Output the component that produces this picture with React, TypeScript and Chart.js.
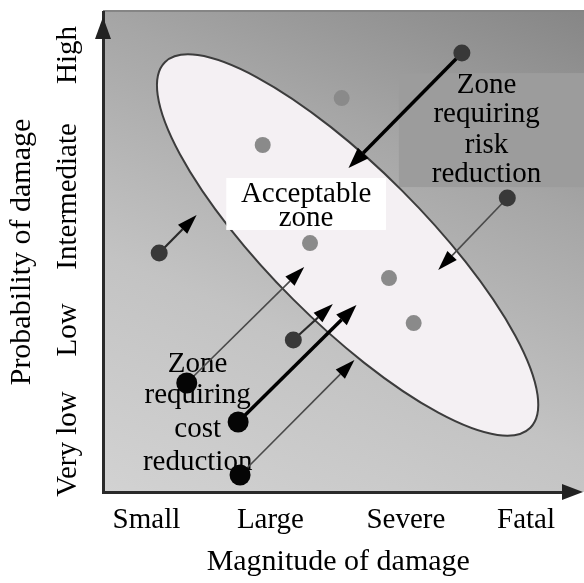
import React, { useEffect, useRef } from 'react';
import { Chart, registerables } from 'chart.js';
Chart.register(...registerables);

const FONT = "'Liberation Serif', 'Times New Roman', serif";

// Axis categories
const xTickLabels = ['Small', 'Large', 'Severe', 'Fatal'];
const xTickValues = [1, 1.98, 3.05, 4];
const yTickLabels = ['Very low', 'Low', 'Intermediate', 'High'];
const yTickValues = [1, 1.88, 2.91, 4];
const X_MIN = 0.657;
const X_MAX = 4.375;
const Y_MIN = 0.63;
const Y_MAX = 4.332;

// Hazard points
const grayDotsX = [1.919, 2.543, 2.293, 2.917, 3.112];
const grayDotsY = [3.306, 3.668, 2.55, 2.28, 1.933];
const darkDotsX = [1.101, 3.493, 3.852, 2.161];
const darkDotsY = [2.473, 4.016, 2.897, 1.802];
const blackDotsX = [1.319, 1.725, 1.74];
const blackDotsY = [1.471, 1.17, 0.761];

// Arrows [fromX, fromY, toX, toY]
const thickArrows = [
  [3.493, 4.016, 2.597, 3.129],
  [1.725, 1.17, 2.66, 2.072],
];
const mediumArrows = [
  [1.101, 2.473, 1.397, 2.766],
  [2.161, 1.802, 2.473, 2.08],
];
const thinArrows = [
  [3.852, 2.897, 3.306, 2.342],
  [1.319, 1.471, 2.247, 2.365],
  [1.74, 0.761, 2.644, 1.648],
];

// Acceptable zone ellipse (center, semi-axes in x units, rotation)
const zoneCenter = [2.59, 2.535];
const zoneSemiAxes = [2.042, 0.608];
const zoneAngleDeg = 45;

// Annotations
const acceptableLines = ['Acceptable', 'zone'];
const acceptableX = 2.262;
const acceptableLineY = [2.866, 2.681];
const acceptableBox = [1.631, 3.052, 2.893, 2.651];

const riskLines = ['Zone', 'requiring', 'risk', 'reduction'];
const riskX = 3.688;
const riskLineY = [3.707, 3.483, 3.244, 3.021];
const riskBox = [2.995, 3.861, X_MAX, 2.982];

const costLines = ['Zone', 'requiring', 'cost', 'reduction'];
const costX = 1.405;
const costLineY = [1.555, 1.316, 1.054, 0.8];

const toPts = (xs: number[], ys: number[]) => xs.map((x, i) => ({ x, y: ys[i] }));

function drawArrow(ctx: CanvasRenderingContext2D, x1: number, y1: number, x2: number, y2: number, color: string, lw: number, headLen: number, headHalf: number) {
  const ang = Math.atan2(y2 - y1, x2 - x1);
  const bx = x2 - headLen * Math.cos(ang);
  const by = y2 - headLen * Math.sin(ang);
  ctx.save();
  ctx.strokeStyle = color;
  ctx.lineWidth = lw;
  ctx.beginPath();
  ctx.moveTo(x1, y1);
  ctx.lineTo(bx, by);
  ctx.stroke();
  ctx.fillStyle = '#000';
  ctx.beginPath();
  ctx.moveTo(x2, y2);
  ctx.lineTo(bx + headHalf * Math.sin(ang), by - headHalf * Math.cos(ang));
  ctx.lineTo(bx - headHalf * Math.sin(ang), by + headHalf * Math.cos(ang));
  ctx.closePath();
  ctx.fill();
  ctx.restore();
}

const backgroundPlugin = {
  id: 'bgGradient',
  beforeDraw(chart: any) {
    const { ctx, chartArea: a } = chart;
    const dx = 0.386 * 626;
    const dy = -0.92 * 626;
    const g = ctx.createLinearGradient(a.left, a.bottom, a.left + dx, a.bottom + dy);
    g.addColorStop(0, '#d2d2d2');
    g.addColorStop(0.35, '#c3c3c3');
    g.addColorStop(0.7, '#a6a6a6');
    g.addColorStop(1, '#878787');
    ctx.save();
    ctx.fillStyle = g;
    ctx.fillRect(a.left, a.top, chart.width - a.left, a.bottom - a.top);
    ctx.strokeStyle = '#858585';
    ctx.lineWidth = 2;
    ctx.beginPath();
    ctx.moveTo(a.left, a.top - 1);
    ctx.lineTo(chart.width, a.top - 1);
    ctx.stroke();
    ctx.restore();
  },
};

const annotationPlugin = {
  id: 'riskAnnotations',
  beforeDatasetsDraw(chart: any) {
    const { ctx } = chart;
    const xs = chart.scales.x;
    const ys = chart.scales.y;
    const px = (v: number) => xs.getPixelForValue(v);
    const py = (v: number) => ys.getPixelForValue(v);
    ctx.save();
    // risk box
    ctx.fillStyle = '#9c9c9c';
    ctx.fillRect(px(riskBox[0]), py(riskBox[1]), chart.width - px(riskBox[0]), py(riskBox[3]) - py(riskBox[1]));
    // ellipse
    const unit = Math.abs(px(1) - px(0));
    ctx.beginPath();
    ctx.ellipse(px(zoneCenter[0]), py(zoneCenter[1]), zoneSemiAxes[0] * unit, zoneSemiAxes[1] * unit, (zoneAngleDeg * Math.PI) / 180, 0, Math.PI * 2);
    ctx.fillStyle = '#f4f0f3';
    ctx.fill();
    ctx.strokeStyle = '#3c3c3c';
    ctx.lineWidth = 2;
    ctx.stroke();
    // acceptable box
    ctx.fillStyle = '#ffffff';
    ctx.fillRect(px(acceptableBox[0]), py(acceptableBox[1]), px(acceptableBox[2]) - px(acceptableBox[0]), py(acceptableBox[3]) - py(acceptableBox[1]));
    // texts
    ctx.fillStyle = '#000';
    ctx.font = `29px ${FONT}`;
    ctx.textAlign = 'center';
    ctx.textBaseline = 'alphabetic';
    acceptableLines.forEach((t, i) => ctx.fillText(t, px(acceptableX), py(acceptableLineY[i])));
    riskLines.forEach((t, i) => ctx.fillText(t, px(riskX), py(riskLineY[i])));
    costLines.forEach((t, i) => ctx.fillText(t, px(costX), py(costLineY[i])));
    // arrows
    thinArrows.forEach((a) => drawArrow(ctx, px(a[0]), py(a[1]), px(a[2]), py(a[3]), '#4a4a4a', 1.6, 20, 6.5));
    mediumArrows.forEach((a) => drawArrow(ctx, px(a[0]), py(a[1]), px(a[2]), py(a[3]), '#2a2a2a', 2.2, 20, 6.5));
    thickArrows.forEach((a) => drawArrow(ctx, px(a[0]), py(a[1]), px(a[2]), py(a[3]), '#000', 3.5, 21, 7.5));
    ctx.restore();
  },
  afterDraw(chart: any) {
    const { ctx, chartArea: a } = chart;
    ctx.save();
    ctx.fillStyle = '#222';
    // y arrow
    ctx.beginPath();
    ctx.moveTo(a.left, a.top + 5);
    ctx.lineTo(a.left - 8, a.top + 27);
    ctx.lineTo(a.left + 8, a.top + 27);
    ctx.closePath();
    ctx.fill();
    // x arrow
    ctx.beginPath();
    ctx.moveTo(chart.width - 1, a.bottom);
    ctx.lineTo(chart.width - 22, a.bottom - 8);
    ctx.lineTo(chart.width - 22, a.bottom + 8);
    ctx.closePath();
    ctx.fill();
    ctx.restore();
  },
};

export default function App() {
  const ref = useRef<HTMLCanvasElement | null>(null);
  useEffect(() => {
    if (!ref.current) return;
    const chart = new Chart(ref.current, {
      type: 'scatter',
      data: {
        datasets: [
          { label: 'Acceptable', data: toPts(grayDotsX, grayDotsY), pointRadius: 8, pointBackgroundColor: '#8a8a8a', pointBorderWidth: 0 },
          { label: 'Needs action', data: toPts(darkDotsX, darkDotsY), pointRadius: 8.5, pointBackgroundColor: '#383838', pointBorderWidth: 0 },
          { label: 'Over-protected', data: toPts(blackDotsX, blackDotsY), pointRadius: 10.5, pointBackgroundColor: '#050505', pointBorderWidth: 0 },
        ],
      },
      options: {
        animation: false,
        responsive: true,
        maintainAspectRatio: false,
        layout: { padding: { top: 12, right: 4, left: 0, bottom: 0 } },
        plugins: { legend: { display: false }, tooltip: { enabled: false } },
        scales: {
          x: {
            type: 'linear',
            min: X_MIN,
            max: X_MAX,
            afterBuildTicks: (s: any) => { s.ticks = xTickValues.map((v) => ({ value: v })); },
            afterFit: (s: any) => { s.height = 91; },
            grid: { display: false, drawTicks: false },
            border: { display: true, color: '#2a2a2a', width: 3 },
            ticks: {
              autoSkip: false,
              padding: 11,
              color: '#000',
              font: { family: FONT, size: 29 },
              callback: (_v: any, i: number) => xTickLabels[i],
            },
            title: { display: true, text: 'Magnitude of damage', color: '#000', font: { family: FONT, size: 30 }, padding: { top: 0, bottom: 3 } },
          },
          y: {
            type: 'linear',
            min: Y_MIN,
            max: Y_MAX,
            afterBuildTicks: (s: any) => { s.ticks = yTickValues.map((v) => ({ value: v })); },
            afterFit: (s: any) => { s.width = 103; },
            grid: { display: false, drawTicks: false },
            border: { display: true, color: '#2a2a2a', width: 3 },
            ticks: {
              autoSkip: false,
              minRotation: 90,
              maxRotation: 90,
              crossAlign: 'center',
              padding: -39,
              color: '#000',
              font: { family: FONT, size: 29 },
              callback: (_v: any, i: number) => yTickLabels[i],
            },
            title: { display: true, text: 'Probability of damage', color: '#000', font: { family: FONT, size: 30 }, padding: { top: 4, bottom: 0 } },
          },
        },
      } as any,
      plugins: [backgroundPlugin, annotationPlugin],
    });
    return () => chart.destroy();
  }, []);
  return (
    <div style={{ position: 'absolute', left: 0, top: 0, width: 584, height: 583, background: '#fff' }}>
      <canvas ref={ref} />
    </div>
  );
}
